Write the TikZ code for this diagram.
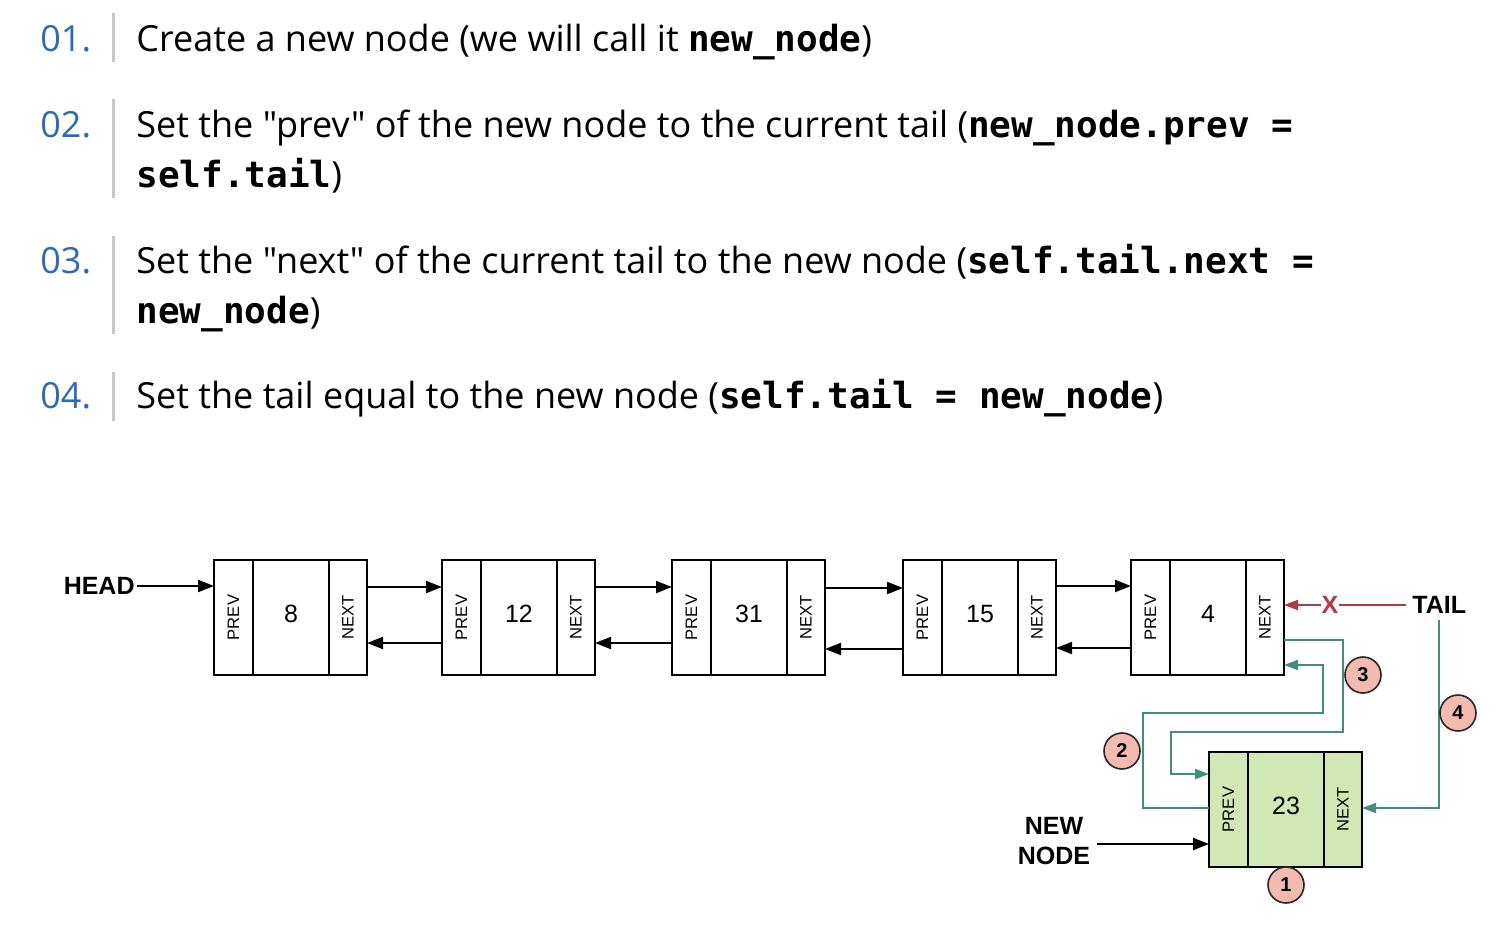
\documentclass[tikz,border=0pt]{standalone}
\usepackage{fontspec}
\usepackage{graphicx}
\setmainfont{Open Sans}[Ligatures=TeXOff]
\newfontfamily\codefont{DejaVu Sans Mono}
\newfontfamily\diagfont{Liberation Sans}
\usetikzlibrary{arrows.meta,calc}
\definecolor{numblue}{RGB}{45,108,180}
\definecolor{bargray}{RGB}{200,200,200}
\definecolor{tealc}{RGB}{66,142,126}
\definecolor{redc}{RGB}{176,58,72}
\definecolor{greenc}{RGB}{210,232,180}
\definecolor{pinkc}{RGB}{243,187,176}
\newcommand{\cd}[1]{{\codefont\bfseries #1}}
\tikzset{
  steptext/.style={anchor=base west, inner sep=0pt, font=\fontsize{18}{25}\selectfont},
  stepnum/.style={steptext, text=numblue},
  stepbar/.style={draw=bargray, line width=1.5pt},
  cellbase/.style={draw=black, line width=1pt, outer sep=0pt, inner sep=0pt, minimum height=57.5pt, anchor=north west, font=\diagfont},
  cellp/.style={cellbase, minimum width=19.5pt, font=\diagfont\fontsize{8.3}{10}\selectfont},
  cellv/.style={cellbase, minimum width=38pt, text depth=4pt, font=\diagfont\fontsize{12.5}{14}\selectfont},
  celln/.style={cellbase, minimum width=19pt, font=\diagfont\fontsize{8.3}{10}\selectfont},
  blk/.style={line width=1pt, -{Triangle[length=8pt,width=6pt]}},
  tline/.style={draw=tealc, line width=1pt, -{Triangle[length=7pt,width=5pt]}, color=tealc},
  lbl/.style={font=\diagfont\bfseries\fontsize{12.5}{15}\selectfont, inner sep=3pt, align=center},
  circ/.style={circle, draw=black!85, line width=0.8pt, fill=pinkc, minimum size=18pt, inner sep=0pt, font=\diagfont\bfseries\fontsize{10}{11}\selectfont},
}
% name, left x, top y, value, fill
\newcommand{\lnode}[5]{%
  \node[cellp, fill=#5] (#1p) at (#2,#3) {\rotatebox{90}{PREV}};
  \node[cellv, fill=#5] (#1v) at (#1p.north east) {#4};
  \node[celln, fill=#5] (#1n) at (#1v.north east) {\rotatebox{90}{NEXT}};
}
\begin{document}
\begin{tikzpicture}[x=0.5pt,y=-0.5pt]
\path[use as bounding box, fill=white] (0,0) rectangle (1496,928);

% steps text
\node[stepnum] (s1n) at (40,51) {01.};
\draw[stepbar] (113,13) -- (113,62);
\node[steptext] (s1a) at (136,51) {Create a new node (we will call it \cd{new\_node})};

\node[stepnum] (s2n) at (40,137) {02.};
\draw[stepbar] (113,99) -- (113,198);
\node[steptext] (s2a) at (136,137) {Set the "prev" of the new node to the current tail (\cd{new\_node.prev =}};
\node[steptext] (s2b) at (136,187) {\cd{self.tail})};

\node[stepnum] (s3n) at (40,273) {03.};
\draw[stepbar] (113,236) -- (113,334);
\node[steptext] (s3a) at (136,273) {Set the "next" of the current tail to the new node (\cd{self.tail.next =}};
\node[steptext] (s3b) at (136,323) {\cd{new\_node})};

\node[stepnum] (s4n) at (40,408) {04.};
\draw[stepbar] (113,372) -- (113,421);
\node[steptext] (s4a) at (136,408) {Set the tail equal to the new node (\cd{self.tail = new\_node})};

% list nodes
\lnode{a}{214}{560}{8}{white}
\lnode{b}{442}{560}{12}{white}
\lnode{c}{672}{560}{31}{white}
\lnode{d}{903}{560}{15}{white}
\lnode{e}{1131}{560}{4}{white}
\lnode{f}{1209}{752}{23}{greenc}

% head
\node[lbl, anchor=east, inner sep=1pt] (head) at (137,586) {HEAD};
\draw[blk] (head.east) -- (head.east -| ap.west);

% forward / backward arrows
\draw[blk] ([yshift=-13.5pt]an.north east) -- ([yshift=-13.5pt]bp.north west);
\draw[blk] ([yshift=-41.5pt]bp.north west) -- ([yshift=-41.5pt]an.north east);
\draw[blk] ([yshift=-13.5pt]bn.north east) -- ([yshift=-13.5pt]cp.north west);
\draw[blk] ([yshift=-41.5pt]cp.north west) -- ([yshift=-41.5pt]bn.north east);
\draw[blk] ([yshift=-14pt]cn.north east) -- ([yshift=-14pt]dp.north west);
\draw[blk] ([yshift=-44.5pt]dp.north west) -- ([yshift=-44.5pt]cn.north east);
\draw[blk] ([yshift=-13pt]dn.north east) -- ([yshift=-13pt]ep.north west);
\draw[blk] ([yshift=-44pt]ep.north west) -- ([yshift=-44pt]dn.north east);

% tail
\node[lbl, anchor=west] (tail) at (1406,605) {TAIL};
\node[font=\diagfont\bfseries\fontsize{12.5}{14}\selectfont, text=redc, inner sep=0pt] (xm) at (1330,605) {X};
\draw[redc, line width=1pt] (tail.west) -- (xm.east);
\draw[redc, line width=1pt, -{Triangle[length=7pt,width=5pt]}] (xm.west) -- (xm.west -| en.east);

% new node label
\node[lbl] (newl) at (1054,841) {NEW\\NODE};
\draw[blk] ([yshift=-1.5pt]newl.east) -- ([yshift=-1.5pt]newl.east -| fp.west);

% teal connectors
\draw[tline] ([yshift=-40pt]en.north east) -| (1343,732) -- (1171,732) |- ([yshift=-11pt]fp.north west);
\draw[tline] ([yshift=-28pt]fp.north west) -| (1143,713) -- (1323,713) |- ([yshift=-52.5pt]en.north east);
\draw[tline] (tail.south) |- ([yshift=-28pt]fn.north east);

% circles
\node[circ] (c1) at (1286,885) {1};
\node[circ] (c2) at (1122,751) {2};
\node[circ] (c3) at (1363,675) {3};
\node[circ] (c4) at (1458,713) {4};
\end{tikzpicture}
\end{document}
